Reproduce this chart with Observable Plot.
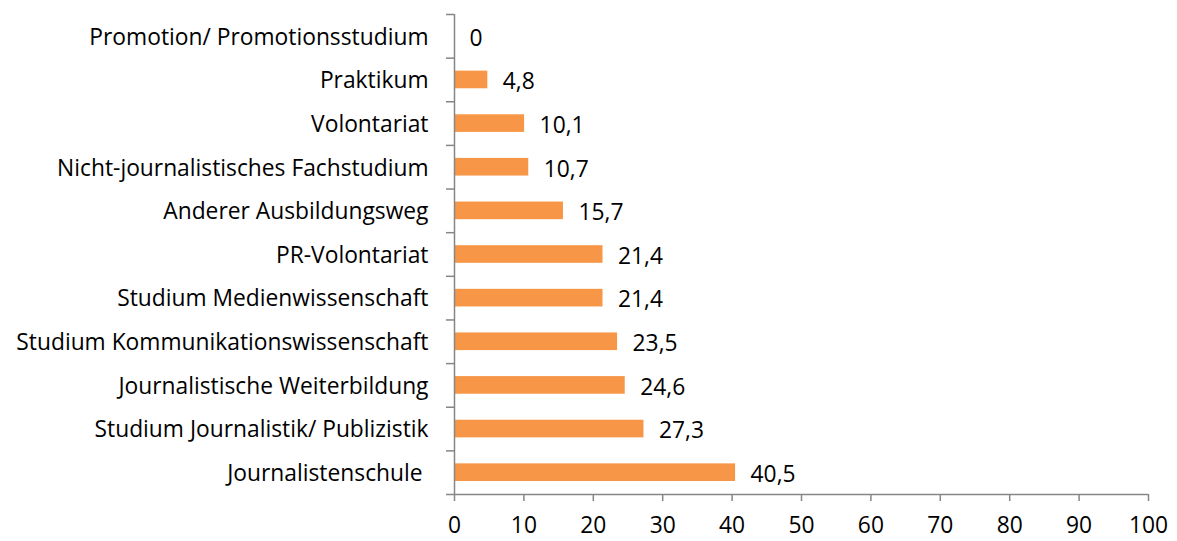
<!DOCTYPE html>
<html><head><meta charset="utf-8">
<script src="https://cdn.jsdelivr.net/npm/d3@7"></script>
<script src="https://cdn.jsdelivr.net/npm/@observablehq/plot@0.6"></script>
<style>body{margin:0;background:#fff;} svg{font-family:"Open Sans", Lato, sans-serif;}</style>
</head><body><div id="chart"></div>
<script>
const categories = ["Promotion/ Promotionsstudium","Praktikum","Volontariat","Nicht-journalistisches Fachstudium","Anderer Ausbildungsweg","PR-Volontariat","Studium Medienwissenschaft","Studium Kommunikationswissenschaft","Journalistische Weiterbildung","Studium Journalistik/ Publizistik","Journalistenschule\u00a0"];
const values = [0,4.8,10.1,10.7,15.7,21.4,21.4,23.5,24.6,27.3,40.5];
const xTicks = [0,10,20,30,40,50,60,70,80,90,100];

const data = categories.map((c,i)=>({cat:c, val:values[i], i}));
const fmt = v => String(v).replace(".", ",");
const axisColor = "#868686";
const fs = 22.8;

const chart = Plot.plot({
  width: 1177, height: 541,
  marginLeft: 454, marginRight: 29, marginTop: 14, marginBottom: 47,
  style: {fontSize: fs + "px", color: "#000", background: "#fff"},
  x: {domain: [0,100], label: null},
  y: {domain: [categories.length, 0], label: null},
  marks: [
    Plot.rectX(data, {x1: 0, x2: "val", y1: "i", y2: d => d.i + 1, insetTop: 13, insetBottom: 13, fill: "#F79646"}),
    Plot.text(data, {x: "val", y: d => d.i + 0.5, text: d => fmt(d.val), textAnchor: "start", dx: 15, dy: 2, fill: "#000", fontSize: fs}),
    Plot.text(data, {x: 0, y: d => d.i + 0.5, text: "cat", textAnchor: "end", dx: -26, dy: 1, fill: "#000", fontSize: fs}),
    Plot.axisY(d3.range(0, categories.length + 1), {tickSize: 8, tickFormat: () => "", stroke: axisColor, strokeWidth: 1.5, label: null}),
    Plot.axisX(xTicks, {tickSize: 7, tickFormat: d => String(d), stroke: axisColor, strokeWidth: 1.5, tickPadding: 15, fill: "#000", fontSize: fs, label: null}),
    Plot.ruleX([0], {stroke: axisColor, strokeWidth: 1.5}),
    Plot.ruleY([categories.length], {stroke: axisColor, strokeWidth: 1.5})
  ]
});
document.getElementById("chart").appendChild(chart);
</script></body></html>
